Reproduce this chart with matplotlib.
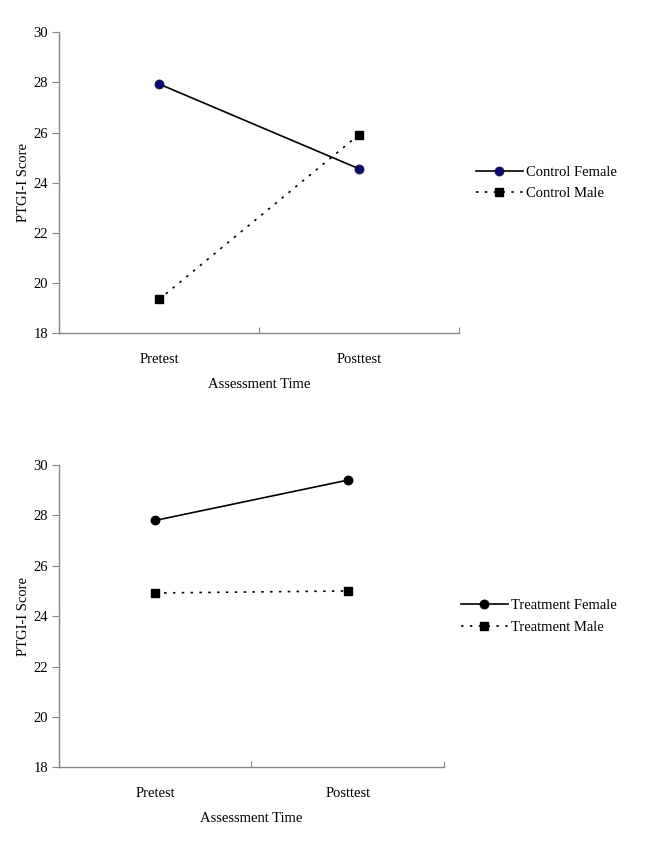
import matplotlib
matplotlib.use("Agg")
import matplotlib.pyplot as plt

plt.rcParams['font.family'] = ['Liberation Serif', 'DejaVu Serif']

categories = ["Pretest", "Posttest"]
control_female = [27.94, 24.56]
control_male = [19.35, 25.92]
treatment_female = [27.80, 29.40]
treatment_male = [24.92, 25.00]
yticks = [18, 20, 22, 24, 26, 28, 30]

FS = 10.5
SPINE = "#868686"

fig = plt.figure(figsize=(6.45, 8.63), dpi=100)

def make_panel(rect, s1, s2, labels, c1, legend_anchor, spacing):
    ax = fig.add_axes(rect)
    x = [i + 0.5 for i in range(len(categories))]
    ax.plot(x, s1, color="black", lw=1.2, marker="o", ms=6.5,
            mfc=c1, mec="black" if c1 == "black" else "#1a1a40", mew=0.6, label=labels[0])
    ax.plot(x, s2, color="black", lw=1.2, ls=(0, (1.5, 3.8)), marker="s", ms=6,
            mfc="black", mec="black", label=labels[1])
    ax.set_xlim(0, len(categories))
    ax.set_ylim(18, 30)
    ax.set_yticks(yticks)
    ax.set_yticklabels([str(v) for v in yticks], fontsize=FS)
    ax.set_xticks(range(len(categories) + 1))
    ax.set_xticklabels([])
    ax.set_xticks(x, minor=True)
    ax.set_xticklabels(categories, minor=True, fontsize=FS)
    ax.tick_params(axis="x", which="minor", length=0, pad=14)
    ax.tick_params(axis="x", which="major", length=4, direction="in", color=SPINE)
    ax.tick_params(axis="y", length=5, direction="out", color=SPINE, pad=3)
    for s in ["top", "right"]:
        ax.spines[s].set_visible(False)
    for s in ["left", "bottom"]:
        ax.spines[s].set_color(SPINE)
        ax.spines[s].set_linewidth(1.0)
    ax.set_ylabel("PTGI-I Score", fontsize=FS, labelpad=2)
    ax.set_xlabel("Assessment Time", fontsize=FS, labelpad=9)
    ax.legend(loc="center left", bbox_to_anchor=legend_anchor, bbox_transform=fig.transFigure,
              frameon=False, fontsize=FS, handlelength=3.2, handletextpad=0.2,
              labelspacing=spacing, borderpad=0, borderaxespad=0)
    return ax

make_panel([59/645, 1 - 333.3/863, 400/645, 301/863], control_female, control_male,
           ["Control Female", "Control Male"], "#0a0a6e", (476/645, 1 - 183/863), 0.55)
make_panel([59/645, 1 - 767.3/863, 385/645, 302.3/863], treatment_female, treatment_male,
           ["Treatment Female", "Treatment Male"], "black", (461/645, 1 - 616.5/863), 0.62)

fig.savefig("out.png", dpi=100)
